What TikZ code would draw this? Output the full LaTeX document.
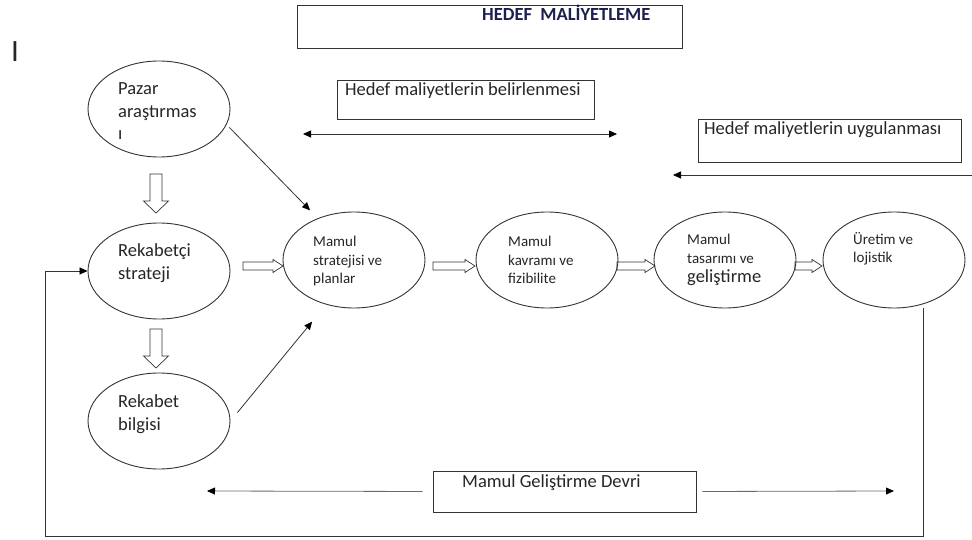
\documentclass[tikz,border=0pt]{standalone}
\usepackage{fontspec}
\setmainfont{Carlito}
\usetikzlibrary{shapes.geometric,arrows.meta,calc}
\definecolor{ink}{HTML}{262626}
\definecolor{edge}{HTML}{333333}
\definecolor{navy}{HTML}{1F1F4F}
\definecolor{soft}{HTML}{6A6A6A}
% multi-line text whose first baseline sits on the node's base
\newcommand\tblock[3]{\parbox[t]{200pt}{\raggedright\fontsize{#1}{#2}\selectfont #3}}
% hollow block arrows: right (x0, x1, y) and down (x, y0, y1)
\newcommand\hollowright[3]{\draw[hollow] (#1,#3-4) -- (#2-10,#3-4) -- (#2-10,#3-6.5) -- (#2,#3) -- (#2-10,#3+6.5) -- (#2-10,#3+4) -- (#1,#3+4) -- cycle;}
\newcommand\hollowdown[3]{\draw[hollow] (#1-6,#2) -- (#1-6,#3-12) -- (#1-12.5,#3-12) -- (#1,#3) -- (#1+12.5,#3-12) -- (#1+6,#3-12) -- (#1+6,#2) -- cycle;}
\begin{document}
\begin{tikzpicture}[x=1pt,y=-1pt,
  oval/.style={draw=edge, line width=0.9pt, ellipse, minimum width=142pt, minimum height=96pt, inner sep=0pt},
  boxed/.style={draw=edge, line width=0.9pt, rectangle, inner sep=0pt},
  txt/.style={anchor=base west, inner sep=0pt, text=ink},
  boxtxt/.style={txt, font=\fontsize{18.5}{20}\selectfont},
  hollow/.style={draw=edge, line width=0.7pt, fill=white},
  link/.style={draw=edge, line width=0.8pt},
  onehead/.style={-{Triangle[length=8pt,width=7pt,color=black]}},
  twohead/.style={{Triangle[length=8pt,width=7pt,color=black]}-{Triangle[length=8pt,width=7pt,color=black]}}
]
\fill[white] (0,0) rectangle (972,540);
\useasboundingbox (0,0) rectangle (972,540);

% title
\node[boxed, minimum width=385pt, minimum height=43pt] (titlebox) at (489.5,26.5) {};
\node[txt, text=navy, font=\bfseries\fontsize{18.5}{20}\selectfont] (title) at (482,21) {HEDEF\ \ MALİYETLEME};
\node[txt, font=\fontsize{31}{31}\selectfont] (ibar) at (11,62) {I};

% phase boxes
\node[boxed, minimum width=257pt, minimum height=39pt] (belirle) at (465.5,99.5) {};
\node[boxtxt] (belirle-t) at (345,96) {Hedef maliyetlerin belirlenmesi};
\node[boxed, minimum width=263pt, minimum height=43pt] (uygula) at (829.5,140.5) {};
\node[boxtxt] (uygula-t) at (704,135) {Hedef maliyetlerin uygulanması};
\node[boxed, minimum width=263pt, minimum height=41pt] (devri) at (564.5,491.5) {};
\node[boxtxt] (devri-t) at (462,487) {Mamul Geliştirme Devri};

% block arrows
\hollowdown{156}{174}{213}
\hollowdown{156}{329}{368}
\hollowright{243}{283}{266}
\hollowright{433}{475}{266}
\hollowright{617}{655}{266}
\hollowright{795}{822}{266}

% stages
\node[oval] (pazar) at (159,109) {};
\node[oval] (rs) at (159,271) {};
\node[oval] (rb) at (159,421) {};
\node[oval] (ms) at (354,260) {};
\node[oval] (mk) at (547,260) {};
\node[oval] (mt) at (725,260) {};
\node[oval] (ur) at (894,260) {};

\node[txt] (pazar-t) at (118,95) {\tblock{18.5}{22.5}{Pazar\\araştırmas\\ı}};
\node[txt] (rs-t) at (118,257) {\tblock{18.5}{23}{Rekabetçi\\strateji}};
\node[txt] (rb-t) at (118,407) {\tblock{18.5}{23}{Rekabet\\bilgisi}};
\node[txt] (ms-t) at (313,247) {\tblock{15}{18.5}{Mamul\\stratejisi ve\\planlar}};
\node[txt] (mk-t) at (508,247) {\tblock{15}{18.5}{Mamul\\kavramı ve\\fizibilite}};
\node[txt] (mt-t) at (687,245) {\tblock{15}{18}{Mamul\\tasarımı ve\\[2pt]{\fontsize{18.5}{18}\selectfont geliştirme}}};
\node[txt] (ur-t) at (853,244) {\tblock{15}{18}{Üretim ve\\lojistik}};

% time spans
\coordinate (dblL) at (303,134);
\coordinate (dblR) at (617,134);
\draw[link, twohead] (dblL) -- (dblR);
\coordinate (apR) at (973,175);
\coordinate (apL) at (673,175);
\draw[link, onehead] (apR) -- (apL);

% inputs to product strategy
\draw[link, onehead, shorten <=4pt, shorten >=11pt] (pazar.-13) -- (ms.131.5);
\draw[link, onehead, shorten <=11pt, shorten >=22pt] (rb.east) -- (ms.-122);

% feedback loop
\coordinate (fbR) at (923,536);
\coordinate (fbL) at (45,536);
\draw[link, onehead] (fbR |- ur.south) -- (fbR) -- (fbL) |- (rs.west);

% development cycle span
\coordinate (devL) at (207,491);
\coordinate (devR) at (894,491);
\draw[link, draw=soft, onehead, shorten <=10pt] (devri.west) -- (devL);
\draw[link, draw=soft, onehead, shorten <=6pt] (devri.east) -- (devR);
\end{tikzpicture}
\end{document}
